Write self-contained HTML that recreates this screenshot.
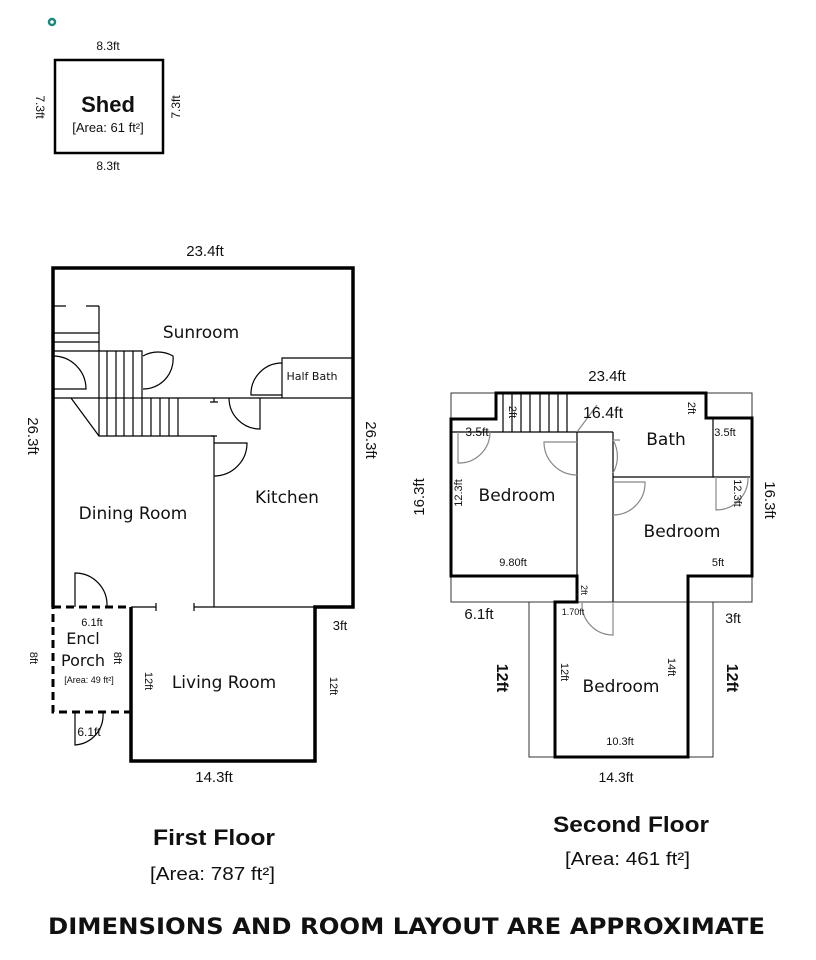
<!DOCTYPE html>
<html><head><meta charset="utf-8"><style>
html,body{margin:0;padding:0;background:#fff;}
svg{display:block;}
text{font-family:"Liberation Sans",sans-serif;fill:#111;}
.dv{font-family:"DejaVu Sans","Liberation Sans",sans-serif;}
</style></head><body>
<svg width="816" height="960" viewBox="0 0 816 960" xmlns="http://www.w3.org/2000/svg">
<circle cx="52" cy="22" r="3" fill="none" stroke="#1a8a80" stroke-width="2.5"/>
<!-- Shed -->
<rect x="55" y="60" width="108" height="93" fill="none" stroke="#000" stroke-width="2.5"/>
<text x="108" y="50" font-size="12" text-anchor="middle">8.3ft</text>
<text x="108" y="170" font-size="12" text-anchor="middle">8.3ft</text>
<text x="108" y="112" font-size="22" font-weight="bold" text-anchor="middle">Shed</text>
<text x="108" y="132" font-size="13" text-anchor="middle">[Area: 61 ft²]</text>
<text transform="translate(36,107) rotate(90)" font-size="12" text-anchor="middle">7.3ft</text>
<text transform="translate(180,107) rotate(-90)" font-size="12" text-anchor="middle">7.3ft</text>

<!-- First floor -->
<g fill="none" stroke="#000">
<path d="M53,607 V268 H353 V607 H315 V761 H131 V607" stroke-width="3.5"/>
<path d="M53,594 V607" stroke-width="3"/>
<rect x="53" y="607" width="78" height="105" stroke-width="3" stroke-dasharray="8,5"/>
<g stroke-width="1.2">
<line x1="53" y1="398" x2="353" y2="398"/>
<path d="M282,398 V358 H353"/>
<path d="M99,306 V351 M53,333 H99 M53,342 H99 M53,306 H66 M86,306 H99 M53,351 H142 V398"/>
<path d="M99,351 V436 H214 M107,351 V436 M116,351 V436 M124,351 V436 M133,351 V436 M142,398 V436 M151,398 V436 M160,398 V436 M169,398 V436 M178,398 V436"/>
<line x1="71" y1="398" x2="99" y2="436"/>
<line x1="214" y1="436" x2="214" y2="607"/>
<path d="M214,398 v4 M211,436 h6 M210,402 h8"/>
<path d="M131,607 H156 M194,607 H214 M156,603 v8 M194,603 v8 M214,607 H315"/>
<path d="M53,356 A33,33 0 0 1 86,389 H53"/>
<path d="M143,356 A30,30 0 0 1 173,356 A30,30 0 0 1 143,389"/>
<path d="M282,363 A31,31 0 0 0 251,395 H282"/>
<path d="M260,398 V429 A31,31 0 0 1 229,398"/>
<path d="M214,443 H247 A33,33 0 0 1 214,476"/>
<path d="M75,607 V573 A32,32 0 0 1 107,606"/>
<path d="M75,712 V745 A30,30 0 0 0 103,713"/>
</g>
</g>
<text x="205" y="256" font-size="15" text-anchor="middle">23.4ft</text>
<text transform="translate(28,436) rotate(90)" font-size="15" text-anchor="middle">26.3ft</text>
<text transform="translate(366,440) rotate(90)" font-size="15" text-anchor="middle">26.3ft</text>
<text class="dv" x="201" y="338" font-size="17" text-anchor="middle">Sunroom</text>
<text class="dv" x="312" y="380" font-size="11" text-anchor="middle">Half Bath</text>
<text class="dv" x="287" y="503" font-size="17" text-anchor="middle">Kitchen</text>
<text class="dv" x="133" y="519" font-size="17" text-anchor="middle">Dining Room</text>
<text class="dv" x="224" y="688" font-size="17" text-anchor="middle">Living Room</text>
<text class="dv" x="83" y="644" font-size="16" text-anchor="middle">Encl</text>
<text class="dv" x="83" y="666" font-size="16" text-anchor="middle">Porch</text>
<text x="89" y="683" font-size="9" text-anchor="middle">[Area: 49 ft²]</text>
<text x="92" y="626" font-size="11" text-anchor="middle">6.1ft</text>
<text transform="translate(30,658) rotate(90)" font-size="11" text-anchor="middle">8ft</text>
<text transform="translate(114,658) rotate(90)" font-size="11" text-anchor="middle">8ft</text>
<text transform="translate(145,681) rotate(90)" font-size="11" text-anchor="middle">12ft</text>
<text x="340" y="630" font-size="13" text-anchor="middle">3ft</text>
<text transform="translate(330,686) rotate(90)" font-size="11" text-anchor="middle">12ft</text>
<text x="89" y="736" font-size="12" text-anchor="middle">6.1ft</text>
<text x="214" y="782" font-size="15" text-anchor="middle">14.3ft</text>

<!-- Second floor -->
<g fill="none" stroke="#000">
<g stroke-width="1" stroke="#333">
<rect x="451" y="393" width="301" height="209"/>
<rect x="529" y="602" width="184" height="155"/>
</g>
<path d="M496,393 H706 V418 H752 V576 H688 V757 H555 V602 H577 V576 H451 V419 H496 Z" stroke-width="3"/>
<g stroke-width="1.2">
<path d="M577,432 V602 M613,432 V602 M451,432 H613 M613,477 H750 M713,419 V477"/>
<path d="M503,393 V432 M512,393 V432 M521,393 V432 M530,393 V432 M540,393 V432 M549,393 V432 M558,393 V432 M567,393 V432"/>
<path d="M577,432 L597,405" stroke="#888"/>
<g stroke="#888">
<path d="M458,432 V463 A31,31 0 0 0 490,432"/>
<path d="M577,442 H544 A33,33 0 0 0 577,475"/>
<path d="M613,440 A33,33 0 0 1 613,473 M613,440 H620"/>
<path d="M613,482 H645 A32,32 0 0 1 613,515"/>
<path d="M716,477 V510 H716 A32,32 0 0 0 748,477"/>
<path d="M613,603 V635 A31,31 0 0 1 582,603"/>
</g>
</g>
</g>
<text x="607" y="381" font-size="15" text-anchor="middle">23.4ft</text>
<text x="603" y="418" font-size="16" text-anchor="middle">16.4ft</text>
<text transform="translate(509,412) rotate(90)" font-size="11" text-anchor="middle">2ft</text>
<text transform="translate(688,408) rotate(90)" font-size="11" text-anchor="middle">2ft</text>
<text x="477" y="436" font-size="12" text-anchor="middle">3.5ft</text>
<text x="725" y="436" font-size="11" text-anchor="middle">3.5ft</text>
<text class="dv" x="666" y="445" font-size="17" text-anchor="middle">Bath</text>
<text class="dv" x="517" y="501" font-size="17" text-anchor="middle">Bedroom</text>
<text transform="translate(462,493) rotate(-90)" font-size="11" text-anchor="middle">12.3ft</text>
<text class="dv" x="682" y="537" font-size="17" text-anchor="middle">Bedroom</text>
<text transform="translate(734,493) rotate(90)" font-size="11" text-anchor="middle">12.3ft</text>
<text transform="translate(424,497) rotate(-90)" font-size="15" text-anchor="middle">16.3ft</text>
<text transform="translate(765,500) rotate(90)" font-size="15" text-anchor="middle">16.3ft</text>
<text x="513" y="566" font-size="11" text-anchor="middle">9.80ft</text>
<text x="718" y="566" font-size="11" text-anchor="middle">5ft</text>
<text transform="translate(581,590) rotate(90)" font-size="9" text-anchor="middle">2ft</text>
<text x="479" y="619" font-size="15" text-anchor="middle">6.1ft</text>
<text x="573" y="615" font-size="9" text-anchor="middle">1.70ft</text>
<text x="733" y="623" font-size="14" text-anchor="middle">3ft</text>
<text transform="translate(497,678) rotate(90)" font-size="16" font-weight="bold" text-anchor="middle">12ft</text>
<text transform="translate(561,672) rotate(90)" font-size="11" text-anchor="middle">12ft</text>
<text class="dv" x="621" y="692" font-size="17" text-anchor="middle">Bedroom</text>
<text transform="translate(668,667) rotate(90)" font-size="11" text-anchor="middle">14ft</text>
<text transform="translate(727,678) rotate(90)" font-size="16" font-weight="bold" text-anchor="middle">12ft</text>
<text x="620" y="745" font-size="11" text-anchor="middle">10.3ft</text>
<text x="616" y="782" font-size="14" text-anchor="middle">14.3ft</text>

<text x="153" y="845" font-size="22" font-weight="bold" textLength="122" lengthAdjust="spacingAndGlyphs">First Floor</text>
<text x="150" y="880" font-size="18" textLength="125" lengthAdjust="spacingAndGlyphs">[Area: 787 ft²]</text>
<text x="553" y="832" font-size="22" font-weight="bold" textLength="156" lengthAdjust="spacingAndGlyphs">Second Floor</text>
<text x="565" y="865" font-size="18" textLength="125" lengthAdjust="spacingAndGlyphs">[Area: 461 ft²]</text>
<text class="dv" x="48" y="934" font-size="22" font-weight="bold" textLength="717" lengthAdjust="spacingAndGlyphs">DIMENSIONS AND ROOM LAYOUT ARE APPROXIMATE</text>
</svg>
</body></html>
